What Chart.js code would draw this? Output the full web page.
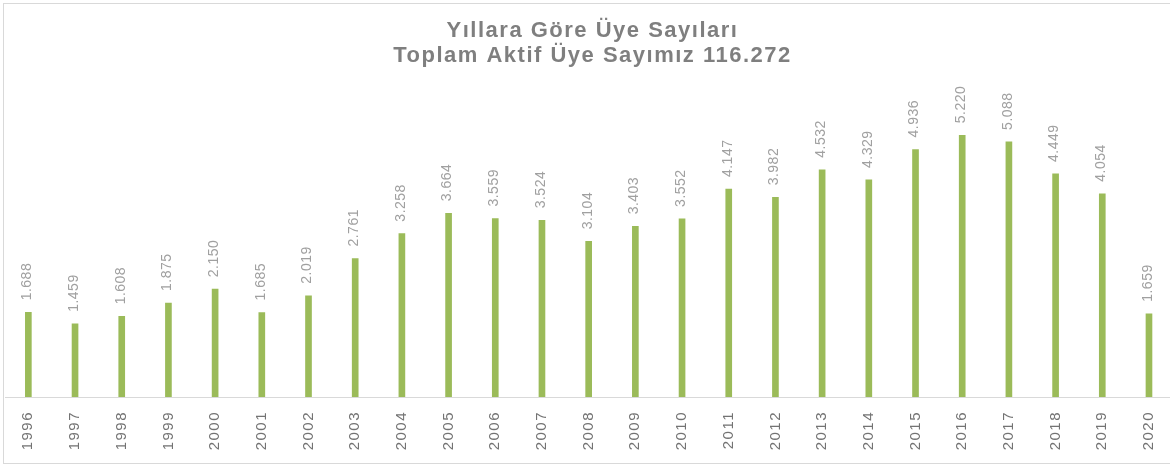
<!DOCTYPE html>
<html>
<head>
<meta charset="utf-8">
<script src="https://cdn.jsdelivr.net/npm/chart.js@4.4.1/dist/chart.umd.min.js"></script>
<style>
  html, body { margin: 0; padding: 0; background: #fff; overflow: hidden; }
  #wrap { position: relative; width: 1181px; height: 467px; }
</style>
</head>
<body>
<div id="wrap"><canvas id="uyeChart"></canvas></div>
<script>
// yillar ve uye sayilari
const years = ["1996", "1997", "1998", "1999", "2000", "2001", "2002", "2003", "2004", "2005",
  "2006", "2007", "2008", "2009", "2010", "2011", "2012", "2013", "2014", "2015",
  "2016", "2017", "2018", "2019", "2020"];
const members = [1688, 1459, 1608, 1875, 2150, 1685, 2019, 2761, 3258, 3664,
  3559, 3524, 3104, 3403, 3552, 4147, 3982, 4532, 4329, 4936,
  5220, 5088, 4449, 4054, 1659];
const titleLines = ["Yıllara Göre Üye Sayıları", "Toplam Aktif Üye Sayımız 116.272"];

function fmt(v) {
  return v.toLocaleString("tr-TR");
}

// cerceve + baslik harf araligi
const framePlugin = {
  id: "frame",
  beforeDraw(chart) {
    const ctx = chart.ctx;
    ctx.save();
    ctx.strokeStyle = "#d9d9d9";
    ctx.lineWidth = 1;
    ctx.strokeRect(3.5, 3.5, 1300, 460);
    ctx.restore();
    ctx.letterSpacing = "1.5px";
  }
};

// bar ustundeki dikey etiketler
const valueLabels = {
  id: "valueLabels",
  afterDatasetsDraw(chart) {
    const ctx = chart.ctx;
    const meta = chart.getDatasetMeta(0);
    ctx.save();
    ctx.letterSpacing = "0.5px";
    ctx.font = "14px 'Liberation Sans', Arial, sans-serif";
    ctx.fillStyle = "#a0a0a0";
    ctx.textAlign = "left";
    ctx.textBaseline = "middle";
    meta.data.forEach((bar, i) => {
      ctx.save();
      ctx.translate(bar.x - 1, bar.y - 12);
      ctx.rotate(-Math.PI / 2);
      ctx.fillText(fmt(members[i]), 0, 0);
      ctx.restore();
    });
    ctx.restore();
    // x ekseni yazilari bundan sonra cizilir (z: 1)
    ctx.letterSpacing = "2px";
  }
};

const ctx = document.getElementById("uyeChart").getContext("2d");
const uyeChart = new Chart(ctx, {
  type: "bar",
  data: {
    labels: years,
    datasets: [{
      data: members,
      backgroundColor: "#9bbb59",
      borderWidth: 0,
      barThickness: 6
    }]
  },
  options: {
    responsive: true,
    maintainAspectRatio: false,
    animation: false,
    layout: { padding: { left: 5, right: 1, top: 0, bottom: 4 } },
    plugins: {
      legend: { display: false },
      tooltip: { enabled: false },
      title: {
        display: true,
        text: titleLines,
        color: "#7f7f7f",
        font: { family: "'Liberation Sans', Arial, sans-serif", size: 22, weight: "bold", lineHeight: 1.14 },
        padding: { top: 18, bottom: 28 }
      }
    },
    scales: {
      x: {
        z: 1,
        grid: { display: false, drawTicks: false },
        border: { display: true, color: "#d9d9d9", width: 1 },
        ticks: {
          color: "#737373",
          font: { family: "'Liberation Sans', Arial, sans-serif", size: 15 },
          minRotation: 90,
          maxRotation: 90,
          padding: 14,
          autoSkip: false
        },
        afterFit(scale) { scale.height = 66; }
      },
      y: {
        display: false,
        min: 0,
        max: 6000
      }
    }
  },
  plugins: [framePlugin, valueLabels]
});
</script>
</body>
</html>
